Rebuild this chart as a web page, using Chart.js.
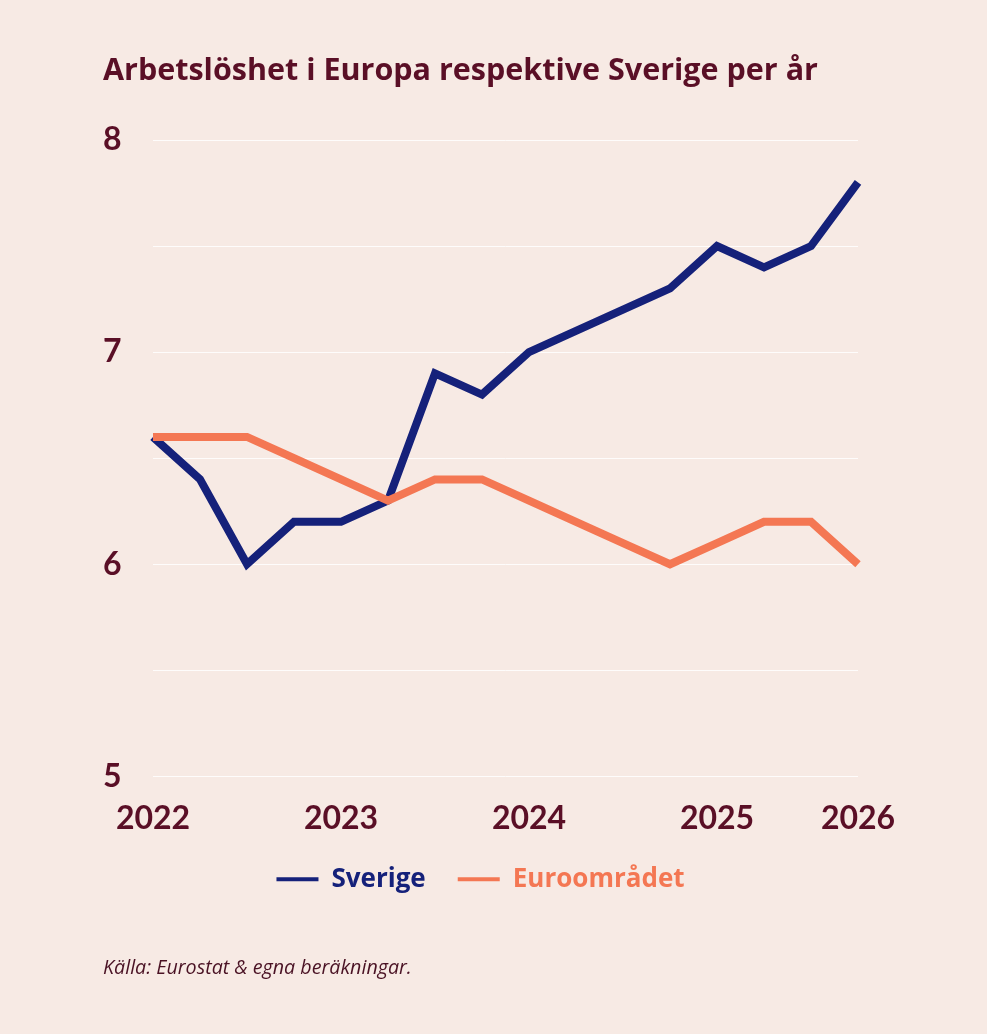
<!DOCTYPE html>
<html lang="sv">
<head>
<meta charset="utf-8">
<title>Arbetslöshet i Europa respektive Sverige per år</title>
<script src="https://cdn.jsdelivr.net/npm/chart.js@4"></script>
<style>
  html, body { margin: 0; padding: 0; background: #f7eae4; }
  #wrap { position: relative; width: 987px; height: 1034px; }
</style>
</head>
<body>
<div id="wrap"><canvas id="myChart"></canvas></div>
<script>
  // kvartal 2022 K1 .. 2025 K4
  const quarters = ['2022K1', '2022K2', '2022K3', '2022K4',
                    '2023K1', '2023K2', '2023K3', '2023K4',
                    '2024K1', '2024K2', '2024K3', '2024K4',
                    '2025K1', '2025K2', '2025K3', '2025K4'];
  const tickLabels = ['2022', '', '', '', '2023', '', '', '', '2024', '', '', '', '2025', '', '', '2026'];
  const sverige = [6.6, 6.4, 6.0, 6.2, 6.2, 6.3, 6.9, 6.8, 7.0, 7.1, 7.2, 7.3, 7.5, 7.4, 7.5, 7.8];
  const euro    = [6.6, 6.6, 6.6, 6.5, 6.4, 6.3, 6.4, 6.4, 6.3, 6.2, 6.1, 6.0, 6.1, 6.2, 6.2, 6.0];

  const maroon = '#5a0f26';
  const navy = '#15217a';
  const orange = '#f47753';

  const ctx = document.getElementById('myChart');

  new Chart(ctx, {
    type: 'line',
    data: {
      labels: quarters,
      datasets: [{
        label: 'Sverige',
        data: sverige,
        borderColor: navy,
        backgroundColor: navy,
        borderWidth: 8,
        pointRadius: 0,
        order: 1
      }, {
        label: 'Euroområdet',
        data: euro,
        borderColor: orange,
        backgroundColor: orange,
        borderWidth: 8,
        pointRadius: 0,
        order: 0
      }]
    },
    options: {
      responsive: true,
      maintainAspectRatio: false,
      animation: false,
      layout: { padding: { left: 103, right: 129, top: 0, bottom: 0 } },
      elements: { line: { tension: 0, borderJoinStyle: 'miter', borderCapStyle: 'butt' } },
      plugins: {
        title: {
          display: true,
          text: 'Arbetslöshet i Europa respektive Sverige per år',
          align: 'start',
          color: maroon,
          font: { family: 'Open Sans', size: 30.5, weight: 'bold' },
          padding: { top: 53, bottom: 50.4 }
        },
        subtitle: {
          display: true,
          position: 'bottom',
          align: 'start',
          text: 'Källa: Eurostat & egna beräkningar.',
          color: '#4a1224',
          font: { family: 'Open Sans', size: 19.7, style: 'italic' },
          padding: { top: 54, bottom: 54 }
        },
        legend: {
          position: 'bottom',
          labels: {
            boxWidth: 42,
            boxHeight: 4,
            padding: 32,
            font: { family: 'Open Sans', size: 26, weight: 'bold' },
            sort: (a, b) => a.datasetIndex - b.datasetIndex,
            generateLabels: (chart) => {
              const items = Chart.defaults.plugins.legend.labels.generateLabels(chart);
              items.forEach(it => {
                const ds = chart.data.datasets[it.datasetIndex];
                it.fillStyle = ds.borderColor;
                it.fontColor = ds.borderColor;
                it.lineWidth = 0;
              });
              return items;
            }
          }
        },
        tooltip: { enabled: false }
      },
      scales: {
        x: {
          afterFit: (scale) => { scale.height = 58; },
          grid: { display: false, drawTicks: false },
          border: { display: false },
          ticks: {
            autoSkip: false,
            maxRotation: 0,
            padding: 26,
            color: maroon,
            font: { family: 'Lato', size: 32, weight: 'bold', lineHeight: 1 },
            callback: (v, i) => tickLabels[i]
          }
        },
        y: {
          min: 5,
          max: 8,
          afterFit: (scale) => { scale.width = 50; },
          grid: { color: 'rgba(255,255,255,0.85)', lineWidth: 1, drawTicks: false },
          border: { display: false },
          ticks: {
            stepSize: 0.5,
            crossAlign: 'far',
            color: maroon,
            font: { family: 'Lato', size: 32, weight: 'bold' },
            callback: (v) => Number.isInteger(v) ? v : ''
          }
        }
      }
    }
  });
</script>
</body>
</html>
